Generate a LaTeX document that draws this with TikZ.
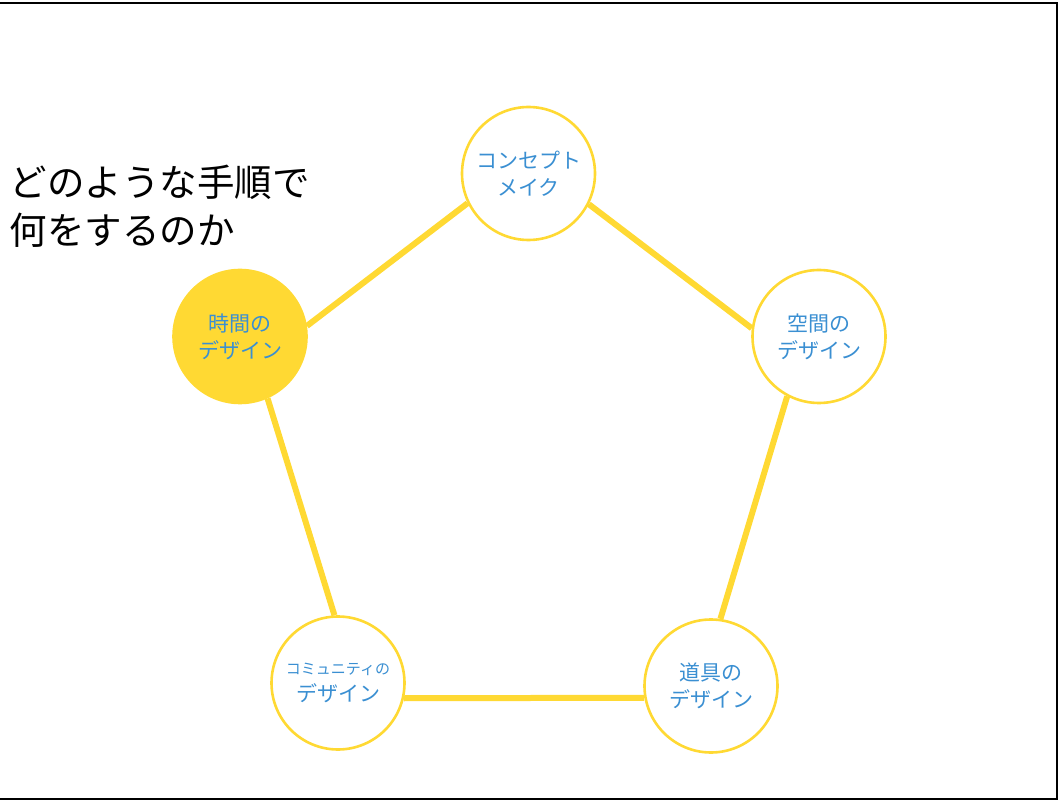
\documentclass[tikz,border=0pt]{standalone}
\usepackage{fontspec}
\newfontfamily\jp{Noto Sans CJK JP}
\definecolor{ylw}{HTML}{FFD933}
\definecolor{txtblue}{HTML}{3A8FD2}
\begin{document}
\begin{tikzpicture}[x=1pt,y=-1pt,
  circ/.style={circle,draw=ylw,line width=2.6pt,fill=white,minimum size=133pt,inner sep=0pt,
    text=txtblue,align=center,font=\jp\fontsize{21}{27}\selectfont},
  active/.style={circ,fill=ylw},
  link/.style={draw=ylw,line width=6pt}]
\useasboundingbox (0,0) rectangle (1061,802);
\draw[line width=2.8pt] (-10,3) -- (1057,3) -- (1057,799) -- (-10,799);

\node[anchor=west,font=\jp\fontsize{37.5}{48}\selectfont,align=left] (title) at (6,206) {どのような手順で\\何をするのか};

\node[circ] (top) at (528.5,173.5) {コンセプト\\メイク};
\node[circ] (right) at (819,336.5) {空間の\\デザイン};
\node[circ] (br) at (711,686) {道具の\\デザイン};
\node[circ] (bl) at (338,683) {{\fontsize{15}{27}\selectfont コミュニティの}\\デザイン};
\node[active] (left) at (240,336.5) {時間の\\デザイン};

\draw[link] (left.9) -- (top.-154);
\draw[link] (top.-27) -- (right.173);
\draw[link] (right.-118) -- (br.82);
\draw[link] (br.-170) -- (bl.-13);
\draw[link] (bl.93) -- (left.-66);
\end{tikzpicture}
\end{document}
